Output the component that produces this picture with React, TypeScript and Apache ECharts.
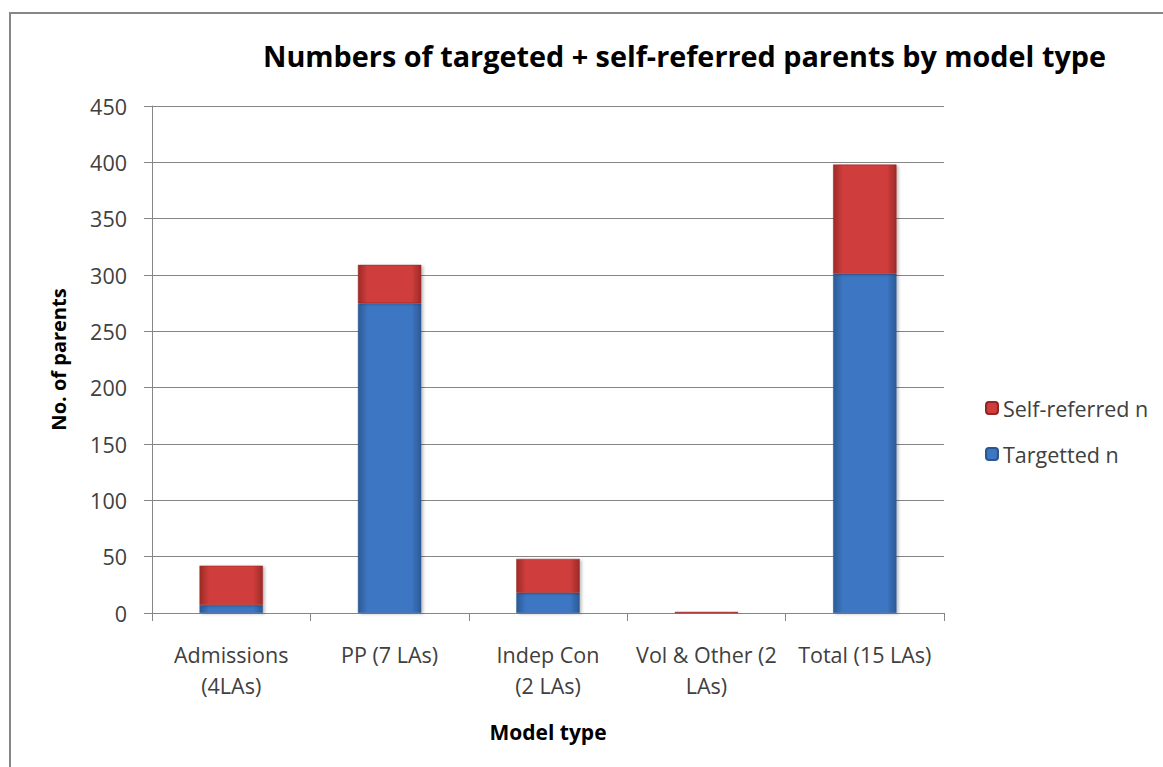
import React, { useEffect, useRef } from "react";
import * as echarts from "echarts";

const categories = [
  "Admissions\n(4LAs)",
  "PP (7 LAs)",
  "Indep Con\n(2 LAs)",
  "Vol & Other (2\nLAs)",
  "Total (15 LAs)",
];
const targetted = [7, 275, 18, 0, 301];
const selfReferred = [35, 34, 30, 1, 97];
const yTicks = { min: 0, max: 450, interval: 50 };

const FONT = "'Open Sans', Lato, sans-serif";

function hGrad(edge: string, mid: string) {
  return new echarts.graphic.LinearGradient(0, 0, 1, 0, [
    { offset: 0, color: edge },
    { offset: 0.15, color: mid },
    { offset: 0.85, color: mid },
    { offset: 1, color: edge },
  ]);
}

export default function App() {
  const ref = useRef<HTMLDivElement>(null);
  useEffect(() => {
    if (!ref.current) return;
    const chart = echarts.init(ref.current, null, { renderer: "svg" });
    chart.setOption({
      animation: false,
      backgroundColor: "#ffffff",
      textStyle: { fontFamily: FONT },
      graphic: [
        {
          type: "rect",
          shape: { x: 10, y: 13, width: 1200, height: 800 },
          style: { fill: "none", stroke: "#878787", lineWidth: 2 },
          silent: true,
        },
      ],
      title: {
        text: "Numbers of targeted + self-referred parents by model type",
        left: 258,
        top: 36,
        textStyle: {
          fontFamily: FONT,
          fontSize: 28.8,
          fontWeight: "bold",
          color: "#000000",
        },
      },
      legend: {
        orient: "vertical",
        left: 980,
        top: 392,
        itemWidth: 12,
        itemHeight: 12,
        itemGap: 24,
        data: ["Self-referred n", "Targetted n"],
        textStyle: { fontFamily: FONT, fontSize: 21.5, color: "#404040" },
      },
      grid: { left: 152, right: 219, top: 106, bottom: 154, containLabel: false },
      xAxis: {
        type: "category",
        data: categories,
        name: "Model type",
        nameLocation: "middle",
        nameGap: 108,
        nameMoveOverlap: false,
        nameTextStyle: { fontFamily: FONT, fontSize: 21, fontWeight: "bold", color: "#000" },
        axisLine: { lineStyle: { color: "#868686", width: 1 } },
        axisTick: { show: true, length: 8, lineStyle: { color: "#868686" } },
        axisLabel: {
          fontFamily: FONT,
          fontSize: 21.5,
          color: "#404040",
          margin: 26,
          lineHeight: 31,
          interval: 0,
        },
      },
      yAxis: {
        type: "value",
        min: yTicks.min,
        max: yTicks.max,
        interval: yTicks.interval,
        name: "No. of parents",
        nameLocation: "middle",
        nameGap: 84,
        nameTextStyle: { fontFamily: FONT, fontSize: 20, fontWeight: "bold", color: "#000" },
        axisLine: { show: true, lineStyle: { color: "#868686", width: 1 } },
        axisTick: { show: true, length: 8, lineStyle: { color: "#868686" } },
        axisLabel: { fontFamily: FONT, fontSize: 21.5, color: "#404040", margin: 25 },
        splitLine: { show: true, lineStyle: { color: "#868686", width: 1 } },
      },
      series: [
        {
          name: "Targetted n",
          type: "bar",
          stack: "total",
          barWidth: "40%",
          data: targetted,
          itemStyle: {
            color: hGrad("#2b5a97", "#3e76c2"),
            borderColor: "#2b5791",
            borderWidth: 0.5,
            shadowBlur: 3,
            shadowColor: "rgba(0,0,0,0.25)",
            shadowOffsetX: 2,
            shadowOffsetY: 1,
          },
        },
        {
          name: "Self-referred n",
          type: "bar",
          stack: "total",
          barWidth: "40%",
          data: selfReferred,
          itemStyle: {
            color: hGrad("#9e2a28", "#cf3e3c"),
            borderColor: "#942625",
            borderWidth: 0.5,
            shadowBlur: 3,
            shadowColor: "rgba(0,0,0,0.25)",
            shadowOffsetX: 2,
            shadowOffsetY: 1,
          },
        },
      ],
    });
    return () => chart.dispose();
  }, []);
  return (
    <div
      ref={ref}
      style={{ position: "fixed", left: 0, top: 0, width: 1163, height: 767 }}
    />
  );
}
